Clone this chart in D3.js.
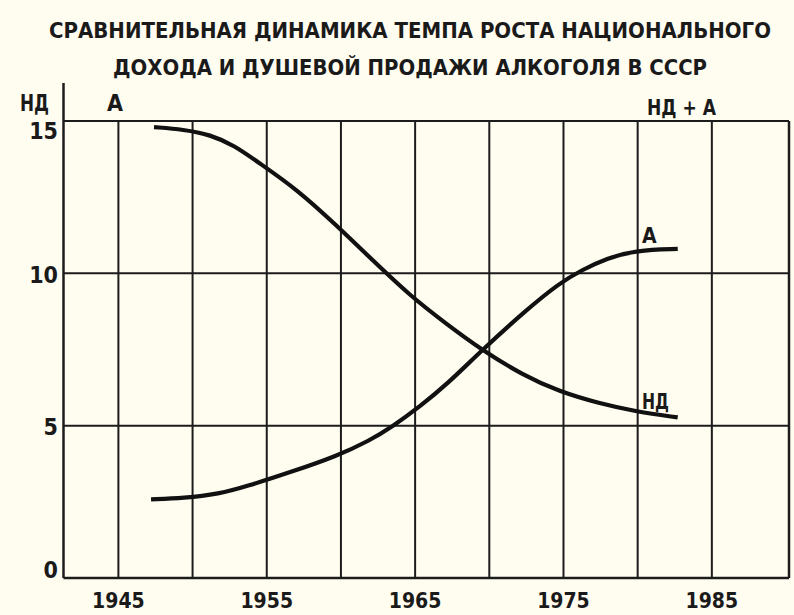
<!DOCTYPE html>
<html>
<head>
<meta charset="utf-8">
<script src="https://cdn.jsdelivr.net/npm/d3@7"></script>
<style>
  html, body { margin: 0; padding: 0; background: #fffcf0; }
  svg { display: block; }
  text { font-family: "Liberation Sans Narrow", "DejaVu Sans Condensed", "Roboto Condensed", "Arial Narrow", "Liberation Sans", sans-serif; font-weight: bold; fill: #1a1a1a; }
</style>
</head>
<body>
<svg id="chart" width="794" height="615"></svg>
<script>
// ---- Data ----
const titleLines = [
  "СРАВНИТЕЛЬНАЯ ДИНАМИКА ТЕМПА РОСТА НАЦИОНАЛЬНОГО",
  "ДОХОДА И ДУШЕВОЙ ПРОДАЖИ АЛКОГОЛЯ В СССР"
];
const gridYears = [1945, 1950, 1955, 1960, 1965, 1970, 1975, 1980, 1985];
const xTickLabels = [1945, 1955, 1965, 1975, 1985];
const yTicks = [0, 5, 10, 15];

// НД — national income growth rate
const ndYears  = [1947.4, 1949.4, 1951.2, 1952.8, 1954.5, 1957.1, 1959.6, 1962.2, 1964.7, 1967.0, 1969.5, 1972.3, 1974.7, 1977.4, 1979.9, 1982.7];
const ndValues = [14.8,   14.72,  14.55,  14.2,   13.62,  12.73,  11.62,  10.4,   9.25,   8.38,   7.48,   6.65,   6.12,   5.73,   5.46,   5.27];

// А — per-capita alcohol sales
const aYears  = [1947.2, 1949.4, 1951.8, 1953.6, 1956.7, 1959.7, 1961.9, 1963.5, 1965.3, 1967.2, 1969.5, 1972.5, 1974.7, 1976.2, 1977.9, 1979.9, 1982.7];
const aValues = [2.58,   2.62,   2.76,   3.0,    3.49,   4.0,    4.5,    4.98,   5.62,   6.38,   7.48,   8.8,    9.67,   10.1,   10.49,  10.76,  10.8];

const seriesLabels = ["НД", "А"];
const axisLabels = { left1: "НД", left2: "А", right: "НД + А" };

// ---- Chart ----
const svg = d3.select("#chart");
const W = 794, H = 615;
svg.append("rect").attr("width", W).attr("height", H).attr("fill", "#fffcf0");

const x = d3.scaleLinear().domain([1941.3, 1990.2]).range([63.5, 789]);
const y = d3.scaleLinear().domain([0, 15]).range([578, 121]);

const ink = "#1c1c1c";

// Title
const titleWidths = [722, 594];
const titleBase = [38, 75];
titleLines.forEach((t, i) => {
  svg.append("text")
    .attr("x", 410).attr("y", titleBase[i])
    .attr("text-anchor", "middle")
    .attr("font-size", 22)
    .attr("textLength", titleWidths[i])
    .attr("lengthAdjust", "spacingAndGlyphs")
    .text(t);
});

const g = svg.append("g");

// Vertical grid lines
g.selectAll(".vgrid").data(gridYears).join("line")
  .attr("x1", d => x(d)).attr("x2", d => x(d))
  .attr("y1", y(15)).attr("y2", y(0))
  .attr("stroke", ink).attr("stroke-width", 2);

// Horizontal grid lines
g.selectAll(".hgrid").data(yTicks.filter(d => d > 0)).join("line")
  .attr("x1", x.range()[0]).attr("x2", x.range()[1])
  .attr("y1", d => y(d)).attr("y2", d => y(d))
  .attr("stroke", ink).attr("stroke-width", 2);

// Frame: left axis (extended up), bottom, right
g.append("line").attr("x1", x.range()[0]).attr("x2", x.range()[0])
  .attr("y1", 83).attr("y2", y(0)).attr("stroke", ink).attr("stroke-width", 2.5);
g.append("line").attr("x1", x.range()[0]).attr("x2", x.range()[1])
  .attr("y1", y(0)).attr("y2", y(0)).attr("stroke", ink).attr("stroke-width", 2.5);
g.append("line").attr("x1", x.range()[1]).attr("x2", x.range()[1])
  .attr("y1", y(15)).attr("y2", y(0)).attr("stroke", ink).attr("stroke-width", 2.5);

// Y tick labels
const yOffset = v => v === 15 ? 10 : (v === 0 ? -8 : 1);
g.selectAll(".ylab").data(yTicks).join("text")
  .attr("x", 58).attr("y", d => y(d) + yOffset(d))
  .attr("dy", "0.36em")
  .attr("text-anchor", "end")
  .attr("font-size", 23)
  .text(d => d);

// X tick labels
g.selectAll(".xlab").data(xTickLabels).join("text")
  .attr("x", d => x(d)).attr("y", 608)
  .attr("text-anchor", "middle")
  .attr("font-size", 21)
  .text(d => d);

// Axis labels
svg.append("text").attr("x", 20).attr("y", 111).attr("font-size", 23)
  .attr("textLength", 29).attr("lengthAdjust", "spacingAndGlyphs").text(axisLabels.left1);
svg.append("text").attr("x", 107).attr("y", 111).attr("font-size", 23).text(axisLabels.left2);
svg.append("text").attr("x", 647).attr("y", 115).attr("font-size", 21)
  .attr("textLength", 69).attr("lengthAdjust", "spacingAndGlyphs").text(axisLabels.right);

// Curves
const line = d3.line().x(d => x(d[0])).y(d => y(d[1])).curve(d3.curveBasis);
const nd = ndYears.map((d, i) => [d, ndValues[i]]);
const a = aYears.map((d, i) => [d, aValues[i]]);

g.append("path").datum(nd).attr("d", line)
  .attr("fill", "none").attr("stroke", "#111").attr("stroke-width", 4.2);
g.append("path").datum(a).attr("d", line)
  .attr("fill", "none").attr("stroke", "#111").attr("stroke-width", 4.2);

// Series labels near line ends
svg.append("text").attr("x", 642).attr("y", 409).attr("font-size", 21)
  .attr("textLength", 27).attr("lengthAdjust", "spacingAndGlyphs").text(seriesLabels[0]);
svg.append("text").attr("x", 642).attr("y", 243).attr("font-size", 21).text(seriesLabels[1]);
</script>
</body>
</html>
